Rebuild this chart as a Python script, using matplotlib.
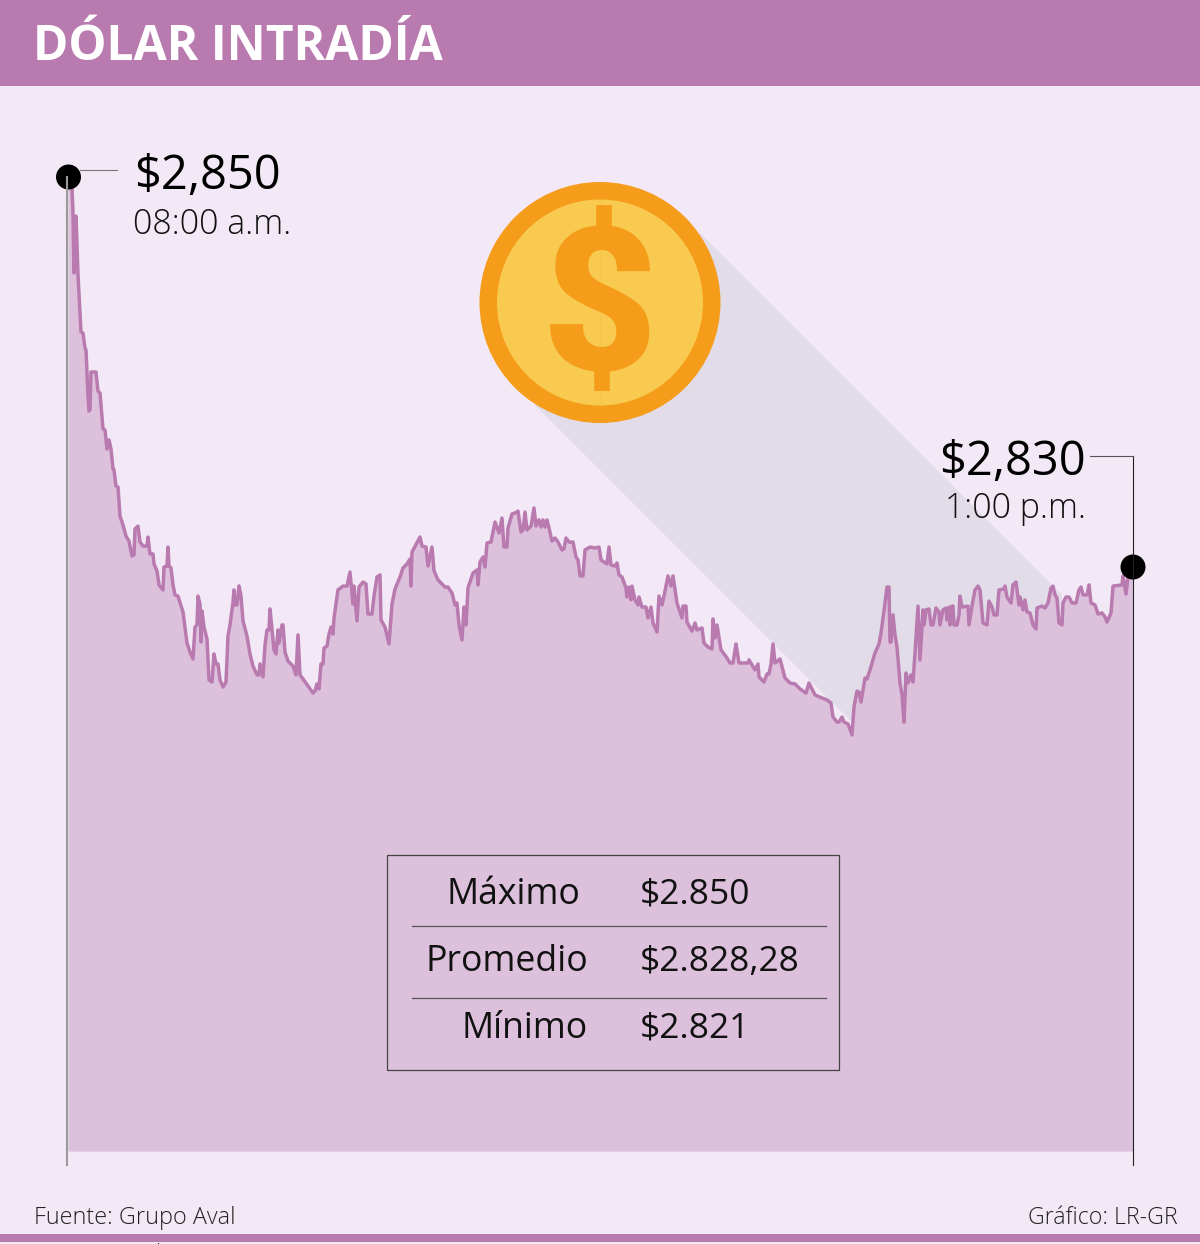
#!/usr/bin/env python
import matplotlib
matplotlib.use('Agg')
from matplotlib import pyplot as plt
from matplotlib.patches import Circle, Polygon, Rectangle

plt.rcParams['font.family'] = ['Open Sans', 'DejaVu Sans']

# ------------------------------- Data ------------------------------------
# tick = position of the quote along the session (08:00 -> 1:00 p.m.)
tick = [0, 3, 4, 5, 6, 8, 9, 10, 13, 15, 17, 18, 20, 21, 22, 23, 28, 30, 32, 35, 37, 39, 41, 43, 45, 46, 48, 50,
        52, 55, 58, 61, 64, 66, 67, 70, 72, 75, 79, 80, 82, 85, 86, 89, 91, 95, 96, 99, 100, 101, 103, 105, 107,
        110, 115, 119, 122, 125, 127, 129, 130, 132, 133, 134, 136, 139, 141, 144, 146, 148, 150, 152, 155, 158,
        160, 162, 165, 166, 167, 169, 171, 173, 175, 179, 182, 185, 189, 191, 192, 195, 197, 199, 201, 202, 204,
        206, 208, 210, 211, 214, 215, 217, 220, 225, 228, 230, 232, 235, 240, 245, 247, 249, 251, 253, 255, 256,
        259, 261, 263, 265, 266, 268, 270, 275, 279, 282, 285, 286, 289, 291, 295, 298, 300, 304, 306, 309, 312,
        313, 317, 321, 324, 327, 332, 335, 339, 342, 343, 344, 352, 354, 358, 360, 364, 366, 370, 374, 377, 380,
        384, 387, 389, 391, 394, 396, 398, 400, 405, 409, 410, 412, 415, 417, 419, 423, 427, 431, 434, 436, 439,
        440, 444, 447, 450, 453, 455, 457, 459, 463, 466, 468, 471, 473, 475, 477, 479, 481, 484, 487, 490, 494,
        496, 498, 501, 505, 508, 510, 512, 515, 517, 522, 527, 531, 533, 536, 539, 541, 543, 547, 549, 551, 554,
        558, 559, 561, 563, 564, 567, 570, 571, 574, 578, 580, 583, 585, 589, 591, 594, 596, 600, 603, 605, 609,
        614, 615, 618, 619, 624, 627, 629, 634, 636, 640, 644, 645, 647, 649, 653, 659, 662, 665, 668, 671, 680,
        681, 687, 690, 691, 696, 699, 701, 703, 705, 707, 712, 717, 722, 727, 732, 738, 741, 747, 754, 759, 763,
        765, 769, 771, 774, 776, 780, 784, 786, 789, 791, 793, 797, 799, 802, 807, 811, 813, 817, 819, 821, 822,
        823, 825, 827, 829, 832, 834, 836, 838, 840, 843, 845, 847, 850, 852, 855, 856, 858, 861, 863, 865, 868,
        871, 872, 875, 878, 879, 881, 882, 884, 885, 886, 889, 891, 892, 894, 900, 901, 904, 907, 910, 912, 915,
        919, 921, 924, 926, 929, 931, 936, 937, 939, 943, 945, 948, 951, 952, 955, 957, 959, 962, 965, 968, 969,
        974, 977, 980, 983, 985, 987, 989, 991, 994, 995, 998, 1001, 1004, 1008, 1011, 1013, 1015, 1019, 1021,
        1023, 1027, 1030, 1034, 1037, 1039, 1043, 1045, 1054, 1055, 1058, 1060, 1063, 1065]
price = [2850.00, 2850.00, 2849.53, 2848.13, 2845.06, 2848.02, 2846.62, 2844.96, 2841.99, 2841.94, 2841.16, 2841.06,
         2838.66, 2837.88, 2837.94, 2839.91, 2839.91, 2838.92, 2838.82, 2836.95, 2836.90, 2835.91, 2836.38, 2835.91,
         2834.87, 2834.82, 2833.98, 2833.93, 2832.42, 2831.96, 2831.38, 2831.12, 2830.34, 2830.40, 2831.75, 2831.90,
         2831.07, 2830.86, 2830.86, 2831.33, 2830.45, 2830.45, 2829.93, 2829.57, 2828.84, 2828.58, 2829.77, 2829.82,
         2830.81, 2829.82, 2829.72, 2828.84, 2828.32, 2828.26, 2827.43, 2825.82, 2825.35, 2824.99, 2826.65, 2826.76,
         2828.26, 2827.85, 2825.87, 2827.48, 2826.65, 2826.03, 2823.90, 2823.79, 2825.25, 2824.73, 2824.73, 2823.90,
         2823.53, 2823.79, 2826.18, 2826.76, 2827.95, 2828.58, 2827.80, 2827.80, 2828.79, 2828.26, 2826.97, 2826.18,
         2825.25, 2824.62, 2824.16, 2824.16, 2824.73, 2824.06, 2825.72, 2826.50, 2826.50, 2827.59, 2826.55, 2825.46,
         2825.25, 2826.50, 2825.82, 2826.76, 2826.76, 2825.35, 2824.88, 2824.62, 2824.16, 2826.24, 2824.16, 2823.95,
         2823.58, 2823.22, 2823.32, 2823.69, 2823.43, 2824.73, 2824.73, 2825.56, 2825.66, 2826.29, 2826.65, 2826.29,
         2827.12, 2827.85, 2828.58, 2828.78, 2828.78, 2829.51, 2827.85, 2828.78, 2826.97, 2828.73, 2828.99, 2828.89,
         2827.33, 2827.33, 2828.26, 2829.25, 2829.36, 2827.02, 2826.65, 2825.77, 2827.85, 2828.63, 2829.25, 2829.72,
         2829.93, 2830.19, 2828.78, 2830.55, 2831.33, 2830.86, 2830.81, 2829.82, 2830.81, 2829.57, 2829.10, 2828.89,
         2828.73, 2828.73, 2828.42, 2827.80, 2827.90, 2826.76, 2825.98, 2827.69, 2826.76, 2828.68, 2829.46, 2829.62,
         2828.84, 2830.03, 2830.29, 2829.77, 2831.02, 2831.07, 2832.11, 2831.54, 2832.32, 2830.81, 2830.81, 2831.80,
         2832.53, 2832.58, 2832.68, 2831.59, 2831.70, 2832.63, 2831.70, 2831.90, 2832.84, 2831.90, 2832.22, 2831.85,
         2832.22, 2831.85, 2832.22, 2831.80, 2831.12, 2831.28, 2831.07, 2830.66, 2830.71, 2831.28, 2831.07, 2831.07,
         2830.29, 2830.14, 2829.31, 2829.31, 2830.66, 2830.81, 2830.76, 2830.81, 2830.14, 2830.03, 2829.93, 2830.81,
         2829.88, 2829.82, 2829.98, 2829.36, 2829.25, 2828.68, 2828.21, 2828.73, 2828.06, 2828.78, 2828.06, 2827.80,
         2828.21, 2827.69, 2827.69, 2827.12, 2827.69, 2826.86, 2826.39, 2828.26, 2827.80, 2828.26, 2829.31, 2828.78,
         2829.31, 2827.90, 2827.12, 2827.74, 2827.74, 2826.91, 2826.44, 2826.86, 2826.50, 2826.60, 2825.82, 2825.61,
         2825.51, 2827.07, 2826.08, 2826.76, 2825.46, 2825.04, 2824.78, 2824.78, 2825.77, 2824.78, 2824.78, 2824.94,
         2824.42, 2824.73, 2824.06, 2823.79, 2824.21, 2824.21, 2824.73, 2825.77, 2824.78, 2824.99, 2824.00, 2823.74,
         2823.69, 2823.43, 2823.22, 2823.74, 2823.12, 2822.96, 2822.86, 2822.70, 2821.97, 2821.71, 2821.71, 2821.97,
         2821.71, 2821.61, 2821.04, 2822.49, 2823.32, 2823.27, 2822.75, 2824.00, 2823.95, 2824.42, 2825.30, 2825.77,
         2826.34, 2827.90, 2828.73, 2828.73, 2825.87, 2825.87, 2827.28, 2826.24, 2825.61, 2823.74, 2823.12, 2821.71,
         2824.26, 2823.74, 2824.16, 2823.79, 2825.30, 2827.74, 2824.94, 2827.54, 2826.76, 2827.54, 2827.59, 2826.76,
         2826.76, 2827.64, 2827.43, 2826.76, 2827.54, 2827.64, 2827.02, 2827.69, 2826.76, 2827.74, 2827.74, 2826.76,
         2826.76, 2827.28, 2828.26, 2827.69, 2827.74, 2826.76, 2827.74, 2828.58, 2828.78, 2828.58, 2826.86, 2826.76,
         2828.00, 2827.69, 2827.28, 2827.28, 2828.58, 2828.63, 2828.78, 2828.21, 2827.90, 2828.84, 2828.99, 2827.80,
         2828.21, 2827.54, 2828.06, 2827.43, 2827.38, 2826.76, 2826.55, 2827.64, 2827.74, 2827.64, 2827.90, 2828.68,
         2828.78, 2828.32, 2828.16, 2826.86, 2826.76, 2827.90, 2828.21, 2828.21, 2827.90, 2827.90, 2828.58, 2828.73,
         2828.32, 2828.32, 2828.84, 2827.90, 2827.80, 2827.33, 2827.38, 2827.17, 2826.91, 2827.38, 2828.78, 2828.84,
         2829.31, 2828.37, 2829.25, 2829.62, 2829.77]
base_price = 2799.40

stat_names = ['Máximo', 'Promedio', 'Mínimo']
stat_values = ['$2.850', '$2.828,28', '$2.821']

# ------------------------------ Colours -----------------------------------
BG = '#f3e9f6'
PURPLE = '#b97ab0'
FILL = '#dcc0dc'
SHADOW = '#e1dce8'
ORANGE = '#f59c1a'
YELLOW = '#f8ca4f'

fig = plt.figure(figsize=(12, 12.44), dpi=100, facecolor=BG)


def pixel_axes(z):
    a = fig.add_axes([0, 0, 1, 1], zorder=z)
    a.set_xlim(0, 1200)
    a.set_ylim(1244, 0)
    a.axis('off')
    return a


# back layer: header, footer rule and the coin's long shadow
back = pixel_axes(0)
back.add_patch(Rectangle((0, 0), 1200, 85.5, color=PURPLE, lw=0))
back.add_patch(Rectangle((0, 1234), 1200, 8, color=PURPLE, lw=0))
back.add_patch(Polygon([(700, 233), (1062, 595), (1062, 760), (860, 730), (535, 405)], color=SHADOW, lw=0))
back.text(33, 48, 'DÓLAR INTRADÍA', color='white', fontsize=34.6, fontweight='bold', va='center')

# the series itself
ax = fig.add_axes([0, 0, 1, 1], zorder=1)
ax.patch.set_alpha(0)
ax.set_xlim(-68, 1132)
ax.set_ylim(2794.568, 2859.256)
ax.axis('off')
ax.fill_between(tick, price, base_price, color=FILL, lw=0)
ax.plot(tick, price, color=PURPLE, lw=2.5, solid_joinstyle='round')

# front layer: callouts, coin, table, sources
front = pixel_axes(2)
front.plot([67, 67], [177, 1165], color='#9a9a9a', lw=1.5)
front.plot([1133, 1133], [456, 1165], color='#222222', lw=0.8)
front.plot([80, 117], [170, 170], color='#777777', lw=0.8)
front.plot([1090, 1133], [456, 456], color='#555555', lw=0.8)
front.add_patch(Circle((68.5, 177), 12.5, color='black', lw=0))
front.add_patch(Circle((1133, 567), 12.5, color='black', lw=0))
front.plot([158, 158], [1242.5, 1244], color='#222222', lw=0.8)

front.text(134, 176, '$2,850', fontsize=33.8, va='center', color='black')
front.text(133, 225, '08:00 a.m.', fontsize=24.4, va='center', color='#111111', fontweight='light')
front.text(1086, 462, '$2,830', fontsize=33.8, va='center', ha='right', color='black')
front.text(1086, 509, '1:00 p.m.', fontsize=24.4, va='center', ha='right', color='#111111', fontweight='light')

front.add_patch(Circle((600, 302.5), 120.5, color=ORANGE, lw=0))
front.add_patch(Circle((600, 302.5), 103, color=YELLOW, lw=0))
front.plot([600, 600], [200, 405], color='#f5c44a', lw=0.8)
front.text(600, 315, '$', fontsize=144, fontweight='black', family=['Roboto', 'DejaVu Sans'], color=ORANGE,
           ha='center', va='center')

front.add_patch(Rectangle((387, 855), 452, 215, fill=False, ec='#444444', lw=0.9))
front.plot([412, 826], [925.5, 925.5], color='#555555', lw=0.9)
front.plot([412, 826], [997.5, 997.5], color='#555555', lw=0.9)
name_right = [580, 588, 588]
row_y = [895, 962, 1029]
for n, v, r, y in zip(stat_names, stat_values, name_right, row_y):
    front.text(r, y, n, fontsize=25.7, ha='right', va='center', color='#111111')
    front.text(640, y, v, fontsize=25.5, ha='left', va='center', color='#111111')

front.text(34, 1218, 'Fuente: Grupo Aval', fontsize=16.8, va='center', color='#222222', fontweight='light')
front.text(1178, 1218, 'Gráfico: LR-GR', fontsize=16.7, va='center', ha='right', color='#222222', fontweight='light')

fig.savefig('out.png', dpi=100, facecolor=BG)
